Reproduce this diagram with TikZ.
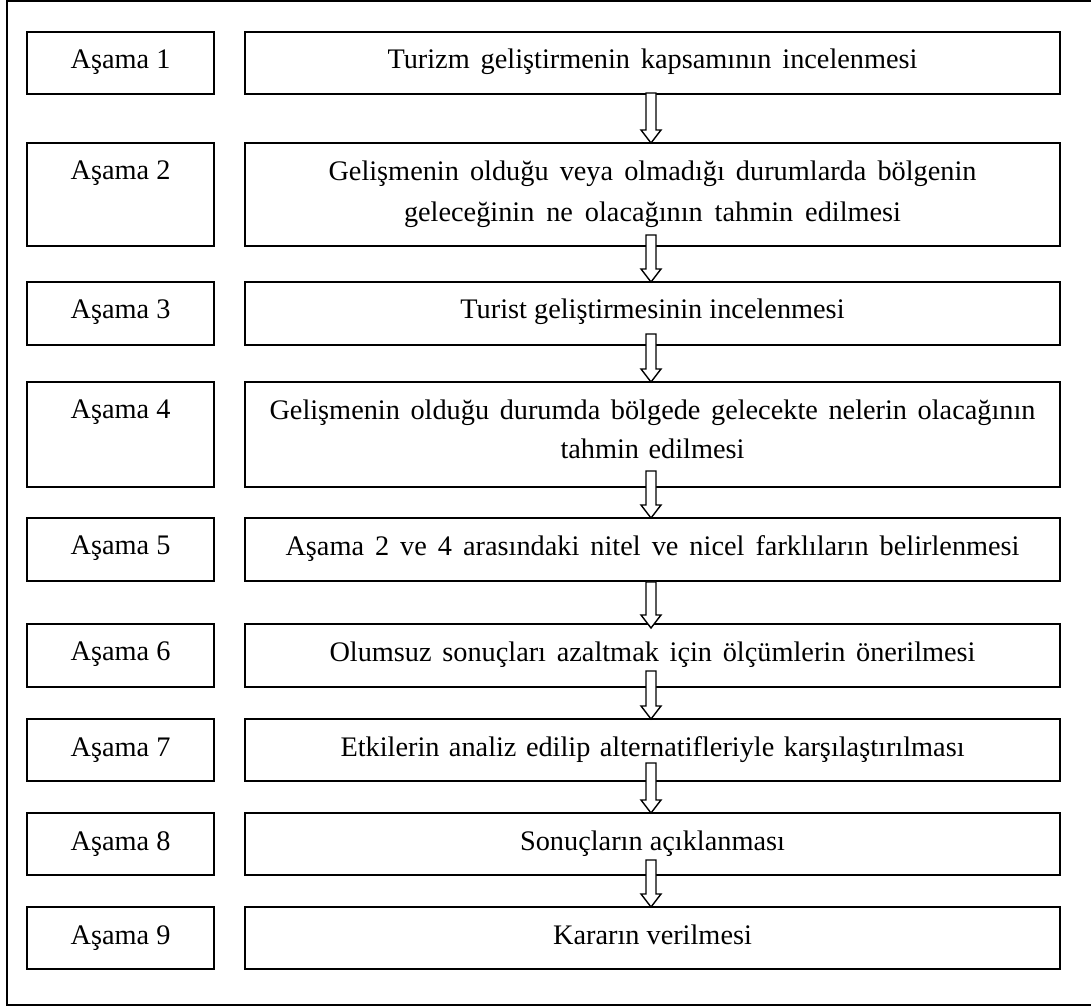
\documentclass[tikz,border=0pt]{standalone}
\usepackage{fontspec}
\setmainfont{Liberation Serif}
\usetikzlibrary{calc}
\newcommand\wline[2]{\makebox[#1pt][s]{#2}}
\begin{document}
\begin{tikzpicture}[x=1pt,y=1pt,
  box/.style={draw, line width=1.8pt, anchor=north west, inner sep=0pt, outer sep=0pt},
  lbl/.style={font=\fontsize{28.3}{34}\selectfont, anchor=base, inner sep=0pt},
  frame/.style={line width=1.8pt},
  barrow/.style={draw, fill=white, line width=1.4pt,
    to path={let \p1=(\tikztostart), \p2=(\tikztotarget) in
      (\x1-5pt,\y1) -- (\x1-5pt,\y2+13pt) -- (\x1-10pt,\y2+13pt) -- (\x2,\y2)
      -- (\x1+10pt,\y2+13pt) -- (\x1+5pt,\y2+13pt) -- (\x1+5pt,\y1) -- cycle}}]
\useasboundingbox (0,0) rectangle (1091,1007);
\draw[frame] (1100,1006) -- (7,1006) -- (7,2) -- (1100,2);

% left boxes
\node[box, minimum width=187pt, minimum height=62pt]  (l1) at (27,975) {};
\node[box, minimum width=187pt, minimum height=103pt] (l2) at (27,864) {};
\node[box, minimum width=187pt, minimum height=63pt]  (l3) at (27,725) {};
\node[box, minimum width=187pt, minimum height=105pt] (l4) at (27,625) {};
\node[box, minimum width=187pt, minimum height=63pt]  (l5) at (27,489) {};
\node[box, minimum width=187pt, minimum height=63pt]  (l6) at (27,383) {};
\node[box, minimum width=187pt, minimum height=62pt]  (l7) at (27,288) {};
\node[box, minimum width=187pt, minimum height=62pt]  (l8) at (27,194) {};
\node[box, minimum width=187pt, minimum height=62pt]  (l9) at (27,100) {};
% right boxes
\node[box, minimum width=815pt, minimum height=62pt]  (r1) at (245,975) {};
\node[box, minimum width=815pt, minimum height=103pt] (r2) at (245,864) {};
\node[box, minimum width=815pt, minimum height=63pt]  (r3) at (245,725) {};
\node[box, minimum width=815pt, minimum height=105pt] (r4) at (245,625) {};
\node[box, minimum width=815pt, minimum height=63pt]  (r5) at (245,489) {};
\node[box, minimum width=815pt, minimum height=63pt]  (r6) at (245,383) {};
\node[box, minimum width=815pt, minimum height=62pt]  (r7) at (245,288) {};
\node[box, minimum width=815pt, minimum height=62pt]  (r8) at (245,194) {};
\node[box, minimum width=815pt, minimum height=62pt]  (r9) at (245,100) {};

% left labels
\foreach \i in {1,...,9}{
  \node[lbl] (lt\i) at ($(l\i.north)+(0,-37)$) {Aşama \i};
}
% right texts
\node[lbl] (rt1) at ($(r1.north)+(0,-37)$) {\wline{530}{Turizm geliştirmenin kapsamının incelenmesi}};
\node[lbl] (rt2a) at ($(r2.north)+(0,-38)$) {\wline{648}{Gelişmenin olduğu veya olmadığı durumlarda bölgenin}};
\node[lbl] (rt2b) at ($(r2.north)+(0,-79)$) {\wline{497}{geleceğinin ne olacağının tahmin edilmesi}};
\node[lbl] (rt3) at ($(r3.north)+(0,-37)$) {Turist geliştirmesinin incelenmesi};
\node[lbl] (rt4a) at ($(r4.north)+(0,-38)$) {\wline{766}{Gelişmenin olduğu durumda bölgede gelecekte nelerin olacağının}};
\node[lbl] (rt4b) at ($(r4.north)+(0,-77)$) {\wline{184}{tahmin edilmesi}};
\node[lbl] (rt5) at ($(r5.north)+(0,-38)$) {\wline{734}{Aşama 2 ve 4 arasındaki nitel ve nicel farklıların belirlenmesi}};
\node[lbl] (rt6) at ($(r6.north)+(0,-38)$) {\wline{646}{Olumsuz sonuçları azaltmak için ölçümlerin önerilmesi}};
\node[lbl] (rt7) at ($(r7.north)+(0,-37)$) {\wline{624}{Etkilerin analiz edilip alternatifleriyle karşılaştırılması}};
\node[lbl] (rt8) at ($(r8.north)+(0,-37)$) {Sonuçların açıklanması};
\node[lbl] (rt9) at ($(r9.north)+(0,-37)$) {Kararın verilmesi};

% block arrows
\draw[barrow] ($(r1.south)+(-1.5,1)$)  to ($(r2.north)+(-1.5,0)$);
\draw[barrow] ($(r2.south)+(-1.5,11)$) to ($(r3.north)+(-1.5,0)$);
\draw[barrow] ($(r3.south)+(-1.5,11)$) to ($(r4.north)+(-1.5,0)$);
\draw[barrow] ($(r4.south)+(-1.5,16)$) to ($(r5.north)+(-1.5,0)$);
\draw[barrow] ($(r5.south)+(-1.5,-1)$) to ($(r6.north)+(-1.5,-4)$);
\draw[barrow] ($(r6.south)+(-1.5,16)$) to ($(r7.north)+(-1.5,0)$);
\draw[barrow] ($(r7.south)+(-1.5,18)$) to ($(r8.north)+(-1.5,0)$);
\draw[barrow] ($(r8.south)+(-1.5,15)$) to ($(r9.north)+(-1.5,0)$);
\end{tikzpicture}
\end{document}
